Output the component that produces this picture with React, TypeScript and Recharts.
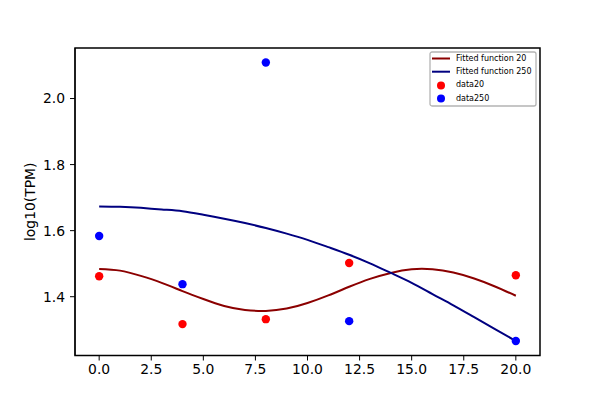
import React from "react";
import {
  ComposedChart,
  Line,
  Scatter,
  XAxis,
  YAxis,
  Legend,
  ReferenceArea,
} from "recharts";

// measured sample times and log10(TPM) values
const timePoints = [0, 4, 8, 12, 20];
const data20 = [1.462, 1.317, 1.332, 1.502, 1.465];
const data250 = [1.584, 1.438, 2.109, 1.326, 1.266];

// fitted curves at each integer x
const fitX = [0, 1, 2, 3, 4, 5, 6, 7, 8, 9, 10, 11, 12, 13, 14, 15, 16, 17, 18, 19, 20];
const fit20 = [
  1.484, 1.479, 1.463, 1.442, 1.417, 1.393, 1.372, 1.360, 1.357, 1.364, 1.381,
  1.404, 1.430, 1.454, 1.472, 1.483, 1.483, 1.473, 1.455, 1.431, 1.403,
];
const fit250 = [
  1.673, 1.672, 1.669, 1.664, 1.659, 1.648, 1.636, 1.623, 1.608, 1.591, 1.572,
  1.550, 1.527, 1.501, 1.472, 1.442, 1.408, 1.374, 1.338, 1.302, 1.266,
];

const xTicks = [0, 2.5, 5, 7.5, 10, 12.5, 15, 17.5, 20];
const yTicks = [1.4, 1.6, 1.8, 2.0];
const xDomain = [-1.16, 21.16];
const yDomain = [1.222, 2.153];

const FONT = "DejaVu Sans";

const scatter20 = timePoints.map((x, i) => ({ x, y: data20[i] }));
const scatter250 = timePoints.map((x, i) => ({ x, y: data250[i] }));
const line20 = fitX.map((x, i) => ({ x, y: fit20[i] }));
const line250 = fitX.map((x, i) => ({ x, y: fit250[i] }));

const legendItems = [
  { label: "Fitted function 20", color: "#8b0000", kind: "line" },
  { label: "Fitted function 250", color: "#000080", kind: "line" },
  { label: "data20", color: "#ff0000", kind: "dot" },
  { label: "data250", color: "#0000ff", kind: "dot" },
];

function LegendBox() {
  return (
    <svg width={108} height={56} style={{ display: "block" }}>
      <rect
        x={1}
        y={1}
        width={106}
        height={54}
        rx={2}
        fill="#fff"
        fillOpacity={0.8}
        stroke="#b4b4b4"
        strokeWidth={1.3}
      />
      {legendItems.map((it, i) => {
        const cy = 7.5 + i * 13.2;
        return (
          <g key={it.label}>
            {it.kind === "line" ? (
              <line x1={3} x2={21} y1={cy} y2={cy} stroke={it.color} strokeWidth={2} />
            ) : (
              <circle cx={12} cy={cy + 0.5} r={4} fill={it.color} />
            )}
            <text
              x={27}
              y={cy}
              dominantBaseline="central"
              fontFamily={FONT}
              fontSize={8}
              fill="#000"
            >
              {it.label}
            </text>
          </g>
        );
      })}
    </svg>
  );
}

function YLabel(props: any) {
  const vb = props.viewBox || { x: 0, y: 0, width: 75, height: 300 };
  const cx = vb.x + 30;
  const cy = vb.y + vb.height / 2;
  return (
    <text
      x={cx}
      y={cy}
      transform={`rotate(-90 ${cx} ${cy})`}
      textAnchor="middle"
      dominantBaseline="central"
      fontFamily={FONT}
      fontSize={13.9}
      fill="#000"
    >
      log10(TPM)
    </text>
  );
}

const dot = (color: string) => (p: any) => (
  <circle cx={p.cx} cy={p.cy} r={4.2} fill={color} />
);

const tickStyle = { fontFamily: FONT, fontSize: 13.9, fill: "#000" };

export default function App() {
  return (
    <div style={{ position: "absolute", left: 0, top: 0, width: 600, height: 400, background: "#fff" }}>
      <ComposedChart
        width={600}
        height={400}
        margin={{ top: 48, right: 60, bottom: 0, left: 0 }}
      >
        <XAxis
          dataKey="x"
          type="number"
          domain={xDomain}
          ticks={xTicks}
          tickFormatter={(v: number) => v.toFixed(1)}
          allowDataOverflow
          height={44.5}
          tickSize={5}
          tickMargin={4}
          tick={tickStyle}
          stroke="#000"
          tickLine={{ stroke: "#000" }}
        />
        <YAxis
          type="number"
          domain={yDomain}
          ticks={yTicks}
          tickFormatter={(v: number) => v.toFixed(1)}
          allowDataOverflow
          width={75}
          tickSize={5}
          tickMargin={5}
          tick={tickStyle}
          stroke="#000"
          tickLine={{ stroke: "#000" }}
          label={<YLabel />}
        />
        {/* frame round the plot area (top and right spines) */}
        <ReferenceArea
          x1={xDomain[0]}
          x2={xDomain[1]}
          y1={yDomain[0]}
          y2={yDomain[1]}
          fill="none"
          stroke="#000"
          strokeWidth={1.5}
          ifOverflow="visible"
        />
        <Line
          data={line20}
          dataKey="y"
          type="natural"
          stroke="#8b0000"
          strokeWidth={2}
          dot={false}
          isAnimationActive={false}
        />
        <Line
          data={line250}
          dataKey="y"
          type="natural"
          stroke="#000080"
          strokeWidth={2}
          dot={false}
          isAnimationActive={false}
        />
        <Scatter data={scatter20} dataKey="y" shape={dot("#ff0000")} isAnimationActive={false} />
        <Scatter data={scatter250} dataKey="y" shape={dot("#0000ff")} isAnimationActive={false} />
        <Legend
          layout="vertical"
          align="center"
          verticalAlign="middle"
          wrapperStyle={{ top: 51, left: 429, width: 108 }}
          content={() => <LegendBox />}
        />
      </ComposedChart>
    </div>
  );
}
